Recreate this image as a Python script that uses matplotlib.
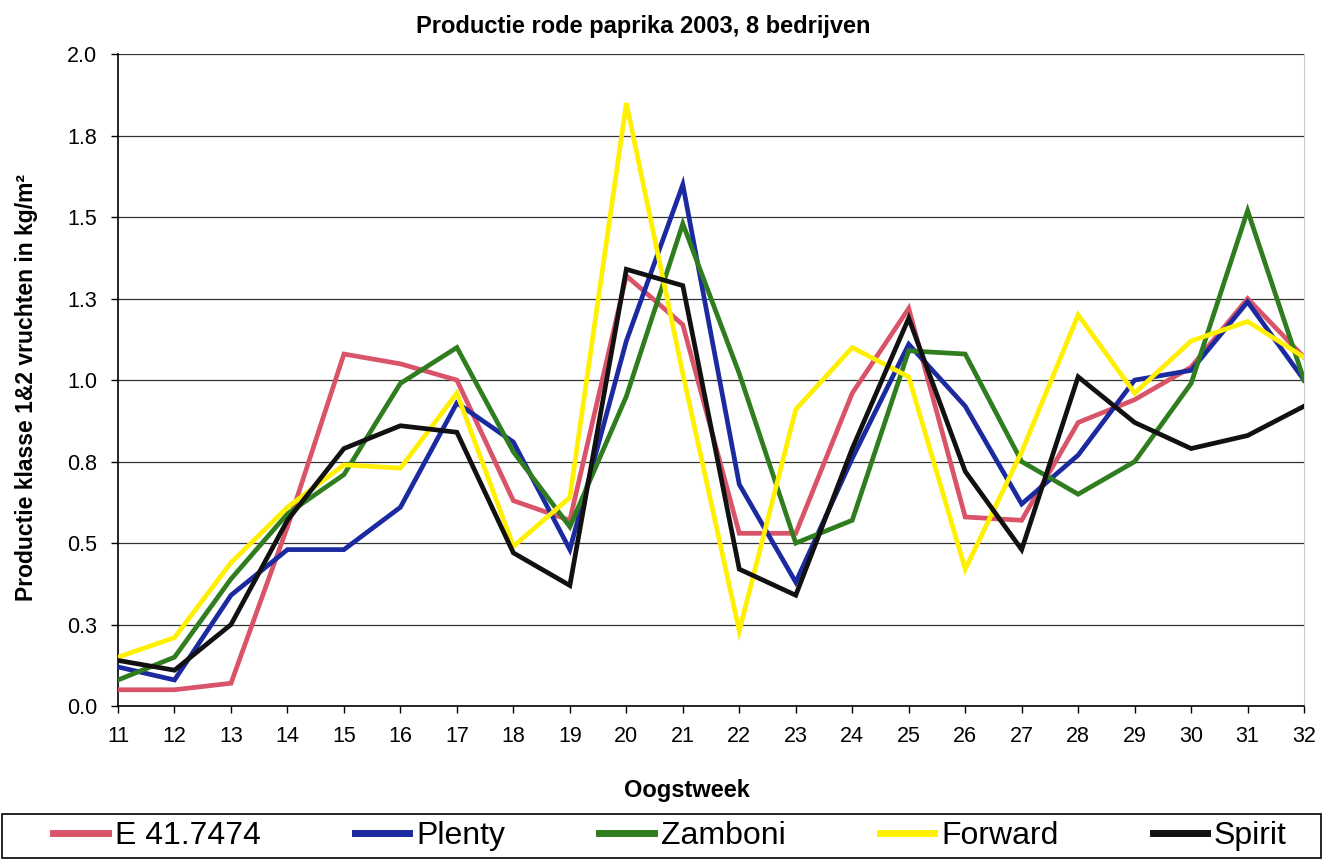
import matplotlib
matplotlib.use("Agg")
import matplotlib.pyplot as plt
from matplotlib.patches import Rectangle

plt.rcParams.update({
    "font.family": ["Liberation Sans", "DejaVu Sans"],
    "font.size": 12,
})

# ── Data ──────────────────────────────────────────────────────────────────
WEEKS = list(range(11, 33))
e41    = [0.05, 0.05, 0.07, 0.55, 1.08, 1.05, 1.00, 0.63, 0.57, 1.32, 1.17,
          0.53, 0.53, 0.96, 1.22, 0.58, 0.57, 0.87, 0.94, 1.04, 1.25, 1.07]
plenty = [0.12, 0.08, 0.34, 0.48, 0.48, 0.61, 0.93, 0.81, 0.48, 1.12, 1.60,
          0.68, 0.38, 0.76, 1.11, 0.92, 0.62, 0.77, 1.00, 1.03, 1.24, 1.00]
zamb   = [0.08, 0.15, 0.39, 0.59, 0.71, 0.99, 1.10, 0.78, 0.55, 0.95, 1.48,
          1.02, 0.50, 0.57, 1.09, 1.08, 0.75, 0.65, 0.75, 0.99, 1.52, 1.00]
forward = [0.15, 0.21, 0.44, 0.61, 0.74, 0.73, 0.96, 0.49, 0.64, 1.85, 1.02,
           0.23, 0.91, 1.10, 1.01, 0.42, 0.78, 1.20, 0.96, 1.12, 1.18, 1.07]
spirit = [0.14, 0.11, 0.25, 0.57, 0.79, 0.86, 0.84, 0.47, 0.37, 1.34, 1.29,
          0.42, 0.34, 0.79, 1.19, 0.72, 0.48, 1.01, 0.87, 0.79, 0.83, 0.92]

SERIES = ["E 41.7474", "Plenty", "Zamboni", "Forward", "Spirit"]
COLORS = ["#D95468", "#1C2AA0", "#2F7D1F", "#FFF000", "#111111"]
YTICKS = [0, 0.25, 0.5, 0.75, 1.0, 1.25, 1.5, 1.75, 2.0]
YLABELS = ["0.0", "0.3", "0.5", "0.8", "1.0", "1.3", "1.5", "1.8", "2.0"]

# ── Plot ──────────────────────────────────────────────────────────────────
fig = plt.figure(figsize=(13.23, 8.6), dpi=100)
ax = fig.add_axes([0.0892, 0.179, 0.8965, 0.758])

for vals, name, col in zip([e41, plenty, zamb, forward, spirit], SERIES, COLORS):
    ax.plot(WEEKS, vals, color=col, linewidth=3.4, label=name,
            solid_joinstyle="miter", zorder=3)

ax.set_xlim(11, 32)
ax.set_ylim(0, 2.0)
ax.set_xticks(WEEKS)
ax.set_yticks(YTICKS)
ax.set_yticklabels(YLABELS)
ax.tick_params(axis="both", direction="out", length=5, width=1, labelsize=15.5)
ax.tick_params(axis="x", pad=9)
ax.tick_params(axis="y", pad=10)
ax.grid(axis="y", color="#333333", linewidth=0.9, zorder=1)

ax.spines["top"].set_visible(False)
ax.spines["right"].set_color("#cccccc")
ax.spines["left"].set_linewidth(1.2)
ax.spines["bottom"].set_linewidth(1.2)

fig.text(0.486, 0.969, "Productie rode paprika 2003, 8 bedrijven",
         ha="center", va="center", fontsize=17, fontweight="bold")
fig.text(0.519, 0.081, "Oogstweek", ha="center", va="center",
         fontsize=17, fontweight="bold")
fig.text(0.020, 0.549, "Productie klasse 1&2 vruchten in kg/m²", rotation=90,
         ha="center", va="center", fontsize=16.5, fontweight="bold")

# legend box
fig.patches.append(Rectangle((0.0015, 0.0023), 0.997, 0.0512, transform=fig.transFigure,
                             facecolor="white", edgecolor="black", linewidth=1.2))
leg = fig.legend(loc="center", bbox_to_anchor=(0.5065, 0.028),
                 ncol=5, fontsize=23, frameon=False,
                 handlelength=1.7, handletextpad=0.22, columnspacing=2.95,
                 borderaxespad=0, borderpad=0)
for line in leg.get_lines():
    line.set_linewidth(5)

plt.savefig("out.png", dpi=100)
plt.close()
